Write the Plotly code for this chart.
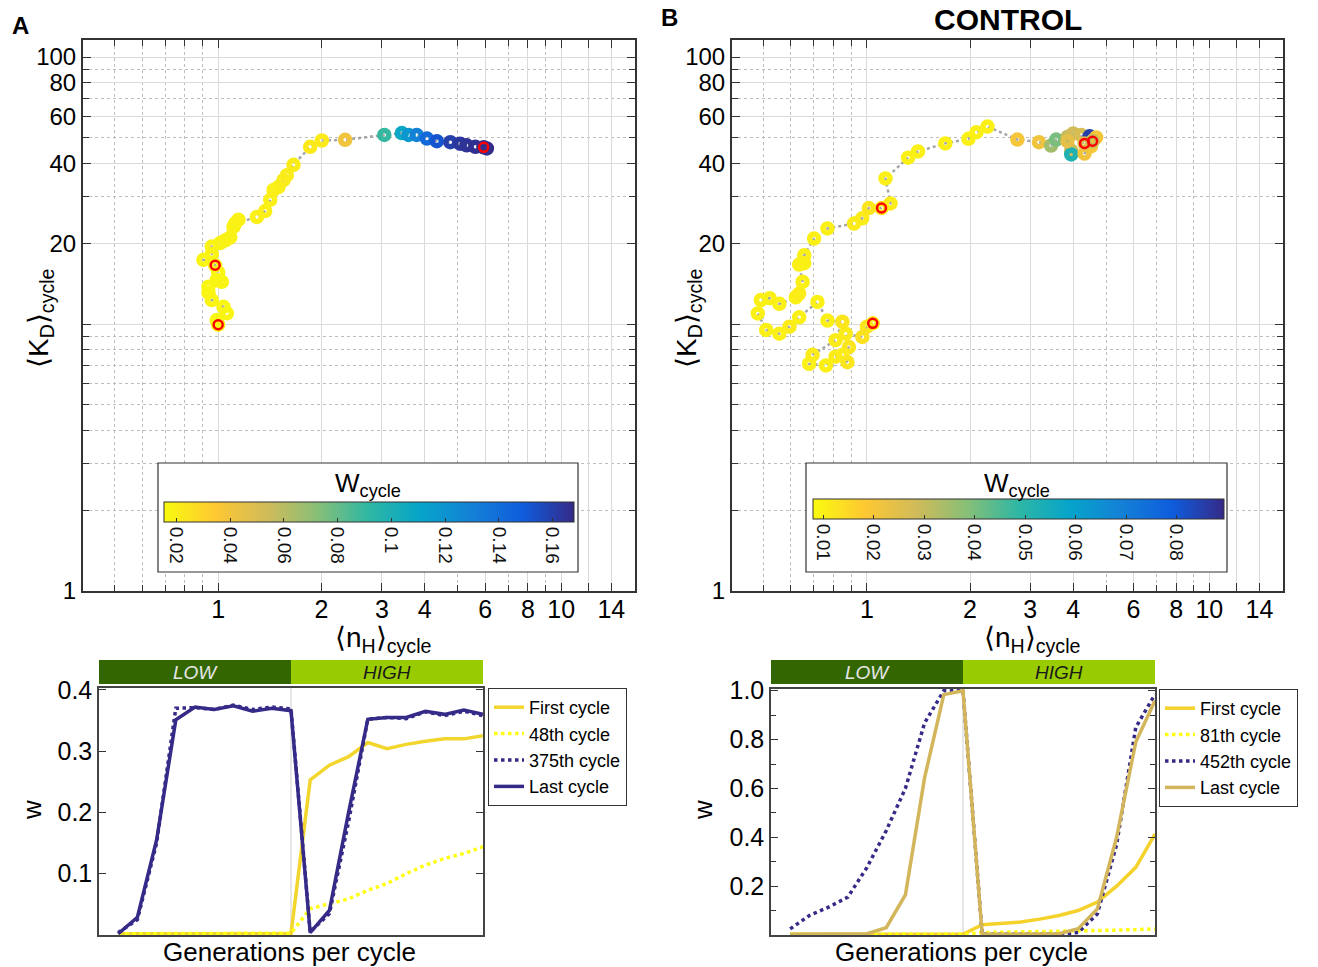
import plotly.graph_objects as go

W, H = 1318, 967
FONT = "Liberation Sans, Arial, Helvetica, sans-serif"

# ---------------- Panel A trajectory (<n_H>, <K_D>, W per cycle) ----------------
a_nh = [1.0, 0.99, 1.06, 1.036, 0.958, 0.937, 0.937, 0.99, 1.025, 1.0, 0.98,
        0.906, 0.958, 0.958, 1.013, 1.05, 1.084, 1.108, 1.146, 1.12, 1.297, 1.371,
        1.418, 1.45, 1.498, 1.55, 1.586, 1.658, 1.854, 2.005, 2.345, 3.05, 3.43,
        3.59, 3.79, 4.06, 4.34, 4.75, 5.07, 5.3, 5.62, 5.94, 6.07]
a_kd = [9.94, 10.35, 10.97, 11.6, 12.3, 13.1, 13.8, 14.6, 14.4, 15.6, 16.6,
        17.4, 18.3, 19.5, 20.1, 20.6, 21.1, 23.1, 24.6, 23.8, 25.2, 26.5,
        29.2, 31.8, 32.6, 34.6, 36.1, 39.5, 46.1, 48.7, 49.0, 51.1, 51.9,
        51.1, 51.1, 49.5, 48.4, 48.0, 47.4, 46.7, 46.1, 45.9, 45.5]
a_w = [0.017, 0.017, 0.018, 0.017, 0.018, 0.018, 0.017, 0.018, 0.018, 0.017, 0.018,
       0.018, 0.018, 0.019, 0.018, 0.019, 0.019, 0.019, 0.019, 0.019, 0.02, 0.02,
       0.02, 0.02, 0.02, 0.021, 0.021, 0.021, 0.022, 0.022, 0.04, 0.09, 0.108,
       0.118, 0.13, 0.142, 0.152, 0.16, 0.163, 0.165, 0.166, 0.167, 0.167]
a_marked = [0, 10, 41]
a_cb_ticks = [0.02, 0.04, 0.06, 0.08, 0.1, 0.12, 0.14, 0.16]
a_cb_text = ["0.02", "0.04", "0.06", "0.08", "0.1", "0.12", "0.14", "0.16"]

# ---------------- Panel B trajectory (CONTROL) ----------------
b_nh = [1.04, 1.0, 0.97, 0.867, 0.886, 0.848, 0.877, 0.81, 0.759, 0.678, 0.694,
        0.81, 0.848, 0.767, 0.717, 0.634, 0.594, 0.555, 0.508, 0.48, 0.49, 0.52,
        0.555, 0.62, 0.634, 0.649, 0.634, 0.656, 0.656, 0.701, 0.767, 0.917, 0.969,
        1.013, 1.103, 1.172, 1.133, 1.319, 1.41, 1.694, 1.979, 2.09, 2.25, 2.75,
        3.18, 3.45, 3.57, 3.86, 3.95, 3.95, 4.0, 3.85, 4.22, 4.32, 4.51, 4.47,
        4.67, 4.32, 4.56]
b_kd = [10.06, 9.77, 8.95, 9.2, 8.2, 7.67, 7.2, 7.55, 7.0, 7.1, 7.67,
        8.7, 10.2, 10.3, 12.1, 10.6, 9.77, 9.2, 9.5, 10.96, 12.3, 12.5,
        11.9, 12.6, 13.0, 14.4, 16.7, 16.9, 18.1, 20.9, 22.8, 23.8, 24.9,
        27.2, 27.2, 28.3, 35.1, 42.0, 44.3, 47.5, 49.4, 52.3, 54.9, 49.1,
        48.0, 46.6, 49.1, 50.3, 44.6, 43.2, 51.7, 48.4, 51.1, 43.5, 46.3, 50.5,
        50.0, 47.5, 48.4]
b_w = [0.011, 0.012, 0.013, 0.011, 0.012, 0.011, 0.012, 0.011, 0.010, 0.010, 0.011,
       0.011, 0.012, 0.010, 0.010, 0.010, 0.011, 0.010, 0.010, 0.010, 0.010, 0.010,
       0.010, 0.010, 0.011, 0.010, 0.010, 0.010, 0.010, 0.010, 0.010, 0.011, 0.011,
       0.012, 0.012, 0.011, 0.010, 0.010, 0.010, 0.010, 0.010, 0.010, 0.010, 0.020,
       0.021, 0.035, 0.040, 0.030, 0.029, 0.052, 0.028, 0.024, 0.027, 0.021, 0.020,
       0.085, 0.020, 0.025, 0.030]
b_marked = [0, 34, 57, 58]
b_cb_ticks = [0.01, 0.02, 0.03, 0.04, 0.05, 0.06, 0.07, 0.08]
b_cb_text = ["0.01", "0.02", "0.03", "0.04", "0.05", "0.06", "0.07", "0.08"]

# ---------------- Bottom panels: w over generations of one cycle ----------------
gen = [1, 2, 3, 4, 5, 6, 7, 8, 9, 10, 11, 12, 13, 14, 15, 16, 17, 18, 19, 20]

a_first = [0.002, 0.002, 0.002, 0.002, 0.002, 0.002, 0.002, 0.002, 0.002, 0.002,
           0.253, 0.277, 0.291, 0.314, 0.304, 0.311, 0.316, 0.32, 0.32, 0.325]
a_48 = [0.002, 0.002, 0.002, 0.002, 0.002, 0.002, 0.003, 0.003, 0.003, 0.003,
        0.043, 0.051, 0.059, 0.073, 0.084, 0.1, 0.114, 0.125, 0.133, 0.144]
a_375 = [0.004, 0.025, 0.15, 0.37, 0.371, 0.368, 0.375, 0.368, 0.372, 0.369,
         0.005, 0.035, 0.185, 0.352, 0.355, 0.353, 0.364, 0.358, 0.365, 0.358]
a_last = [0.002, 0.029, 0.155, 0.351, 0.372, 0.368, 0.374, 0.365, 0.37, 0.366,
          0.004, 0.04, 0.2, 0.352, 0.355, 0.355, 0.365, 0.36, 0.367, 0.36]

b_first = [0.003, 0.003, 0.003, 0.003, 0.003, 0.003, 0.003, 0.003, 0.003, 0.003,
           0.042, 0.049, 0.053, 0.065, 0.08, 0.1, 0.135, 0.2, 0.277, 0.413]
b_81 = [0.003, 0.003, 0.003, 0.003, 0.003, 0.003, 0.003, 0.003, 0.003, 0.003,
        0.01, 0.011, 0.012, 0.013, 0.014, 0.016, 0.018, 0.02, 0.022, 0.025]
b_452 = [0.025, 0.08, 0.114, 0.155, 0.277, 0.427, 0.6, 0.868, 1.0, 1.0,
         0.003, 0.003, 0.003, 0.003, 0.003, 0.01, 0.087, 0.37, 0.85, 0.985]
b_last = [0.003, 0.003, 0.003, 0.003, 0.005, 0.03, 0.164, 0.644, 0.984, 1.0,
          0.003, 0.003, 0.003, 0.003, 0.005, 0.026, 0.107, 0.4, 0.79, 0.96]

a_names = ["First cycle", "48th cycle", "375th cycle", "Last cycle"]
b_names = ["First cycle", "81th cycle", "452th cycle", "Last cycle"]

# parula (reversed: yellow -> dark blue)
parula = ["#352a87", "#0f5cdd", "#1481d6", "#06a4ca", "#2eb7a4",
          "#87bf77", "#d1bb59", "#fec832", "#f9fb0e"]
cscale = [[i / 8, c] for i, c in enumerate(parula[::-1])]


def fx(p):
    return p / W


def fy(p):
    return 1 - p / H


fig = go.Figure()


def add_traj(nh, kd, w, marked, xa, ya, cmin, cmax, cbx, cblen, cbtop, tv, tt):
    fig.add_trace(go.Scatter(x=nh, y=kd, mode="lines", xaxis=xa, yaxis=ya,
                             line=dict(color="#a5a5a5", width=2.5, dash="dot"),
                             showlegend=False, hoverinfo="skip"))
    fig.add_trace(go.Scatter(
        x=nh, y=kd, mode="markers", xaxis=xa, yaxis=ya, showlegend=False,
        marker=dict(symbol="circle-open", size=9, color=w, colorscale=cscale,
                    cmin=cmin, cmax=cmax, line=dict(width=5.5),
                    colorbar=dict(orientation="h", x=cbx, xanchor="center",
                                  y=cbtop, yanchor="top", len=cblen, lenmode="pixels",
                                  thickness=20, thicknessmode="pixels", xpad=0, ypad=0,
                                  outlinewidth=1, outlinecolor="#333",
                                  tickvals=tv, ticktext=tt, tickangle=90,
                                  ticks="inside", ticklen=4, tickcolor="#333",
                                  tickfont=dict(family=FONT, size=19, color="#111")))))
    fig.add_trace(go.Scatter(
        x=[nh[i] for i in marked], y=[kd[i] for i in marked], mode="markers",
        xaxis=xa, yaxis=ya, showlegend=False,
        marker=dict(symbol="circle-open", size=9, color="#ff0000", line=dict(width=2.5))))


add_traj(a_nh, a_kd, a_w, a_marked, "x", "y", 0.0154, 0.168,
         fx(369), 410, fy(502), a_cb_ticks, a_cb_text)
add_traj(b_nh, b_kd, b_w, b_marked, "x2", "y2", 0.0079, 0.0893,
         fx(1018), 411, fy(499), b_cb_ticks, b_cb_text)

navy = "#352a87"
a_styles = [("#f2d62e", "solid"), ("#ffff14", "dot"), (navy, "dot"), (navy, "solid")]
b_styles = [("#f5d22b", "solid"), ("#ffff14", "dot"), (navy, "dot"), ("#d3b65c", "solid")]
for ys, nm, (c, d) in zip([a_first, a_48, a_375, a_last], a_names, a_styles):
    fig.add_trace(go.Scatter(x=gen, y=ys, mode="lines", name=nm, xaxis="x3", yaxis="y3",
                             line=dict(color=c, width=3.5, dash=d), legend="legend"))
for ys, nm, (c, d) in zip([b_first, b_81, b_452, b_last], b_names, b_styles):
    fig.add_trace(go.Scatter(x=gen, y=ys, mode="lines", name=nm, xaxis="x4", yaxis="y4",
                             line=dict(color=c, width=3.5, dash=d), legend="legend2"))


def log_x(dom, anchor):
    return dict(type="log", domain=dom, anchor=anchor, range=[-0.394, 1.215],
                tickvals=[1, 2, 3, 4, 6, 8, 10, 12, 14],
                ticktext=["1", "2", "3", "4", "6", "8", "10", "", "14"],
                ticks="inside", ticklen=8, tickcolor="#333", showline=True,
                linecolor="#333", linewidth=2, mirror="ticks", showgrid=True,
                gridcolor="#dadada", gridwidth=1, zeroline=False, automargin=False,
                ticklabelstandoff=-5,
                minor=dict(tickvals=[0.5, 0.6, 0.7, 0.8, 0.9, 5, 7, 9], ticks="inside",
                           ticklen=6, tickcolor="#333", showgrid=True,
                           gridcolor="#bdbdbd", griddash="dot", gridwidth=1),
                tickfont=dict(family=FONT, size=25, color="black"))


def log_y(dom, anchor):
    return dict(type="log", domain=dom, anchor=anchor, range=[0, 2.064],
                tickvals=[1, 10, 20, 40, 60, 80, 100],
                ticktext=["1", "", "20", "40", "60", "80", "100"],
                ticks="inside", ticklen=8, tickcolor="#333", showline=True,
                linecolor="#333", linewidth=2, mirror="ticks", showgrid=True,
                gridcolor="#dadada", gridwidth=1, zeroline=False, automargin=False,
                minor=dict(tickvals=[2, 3, 4, 5, 6, 7, 8, 9, 30, 50, 70, 90], ticks="inside",
                           ticklen=6, tickcolor="#333", showgrid=True,
                           gridcolor="#bdbdbd", griddash="dot", gridwidth=1),
                tickfont=dict(family=FONT, size=24, color="black"))


def lin_x(dom, anchor):
    return dict(domain=dom, anchor=anchor, range=[0, 20], showticklabels=False, ticks="",
                showline=True, linecolor="#444", linewidth=1.5, mirror=True,
                showgrid=False, zeroline=False, automargin=False)


def lin_y(dom, anchor, rng, tv, tt, minor_tv):
    return dict(domain=dom, anchor=anchor, range=rng, tickvals=tv, ticktext=tt,
                ticks="inside", ticklen=7, tickcolor="#333", showline=True,
                linecolor="#444", linewidth=1.5, mirror="ticks", showgrid=False,
                zeroline=False, automargin=False,
                minor=dict(tickvals=minor_tv, ticks="inside", ticklen=5, tickcolor="#333"),
                tickfont=dict(family=FONT, size=25, color="black"))


legend_common = dict(xanchor="left", yanchor="top", bgcolor="white", bordercolor="#333",
                     borderwidth=1, font=dict(family=FONT, size=18, color="black"),
                     tracegroupgap=0)

fig.update_layout(
    width=W, height=H, margin=dict(l=0, r=0, t=0, b=0, pad=0, autoexpand=False),
    paper_bgcolor="white", plot_bgcolor="white",
    font=dict(family=FONT, color="black"),
    xaxis=log_x([fx(83), fx(635)], "y"), yaxis=log_y([fy(591), fy(40)], "x"),
    xaxis2=log_x([fx(732), fx(1283)], "y2"), yaxis2=log_y([fy(591), fy(40)], "x2"),
    xaxis3=lin_x([fx(99), fx(483)], "y3"),
    yaxis3=lin_y([fy(935), fy(688)], "x3", [0, 0.403], [0.1, 0.2, 0.3, 0.4],
                 ["0.1", "0.2", "0.3", "0.4"], []),
    xaxis4=lin_x([fx(771), fx(1155)], "y4"),
    yaxis4=lin_y([fy(935), fy(689)], "x4", [0, 1.007], [0.2, 0.4, 0.6, 0.8, 1.0],
                 ["0.2", "0.4", "0.6", "0.8", "1.0"], [0.1, 0.3, 0.5, 0.7, 0.9]),
    legend=dict(x=fx(488), y=fy(688), **legend_common),
    legend2=dict(x=fx(1159), y=fy(689), **legend_common),
)

shapes = []
# colorbar boxes
for x0, x1 in [(158, 578), (806, 1227)]:
    shapes.append(dict(type="rect", xref="paper", yref="paper", x0=fx(x0), x1=fx(x1),
                       y0=fy(572), y1=fy(463), fillcolor="white",
                       line=dict(color="#333", width=1.2), layer="above"))
# LOW / HIGH header bars and divider lines
for xr in ["x3", "x4"]:
    shapes.append(dict(type="rect", xref=xr, yref="paper", x0=0, x1=10, y0=fy(684), y1=fy(660),
                       fillcolor="#336600", line=dict(width=0)))
    shapes.append(dict(type="rect", xref=xr, yref="paper", x0=10, x1=20, y0=fy(684), y1=fy(660),
                       fillcolor="#99cc00", line=dict(width=0)))
    shapes.append(dict(type="line", xref=xr, yref=xr.replace("x", "y") + " domain",
                       x0=10, x1=10, y0=0, y1=1, line=dict(color="#cfcfcf", width=1),
                       layer="below"))
fig.update_layout(shapes=shapes)

ann = []


def txt(x, y, t, size, angle=0, color="black"):
    ann.append(dict(x=x, y=y, xref="paper", yref="paper", text=t, showarrow=False,
                    textangle=angle, xanchor="center", yanchor="middle",
                    font=dict(family=FONT, size=size, color=color)))


txt(fx(20), fy(25), "<b>A</b>", 24)
txt(fx(669), fy(17), "<b>B</b>", 24)
txt(fx(1008), fy(19), "<b>CONTROL</b>", 30)
for cx in [368, 1017]:
    txt(fx(cx), fy(484), "W<sub>cycle</sub>", 26)
txt(fx(383), fy(639), "⟨n<sub>H</sub>⟩<sub>cycle</sub>", 28)
txt(fx(1032), fy(639), "⟨n<sub>H</sub>⟩<sub>cycle</sub>", 28)
txt(fx(40), fy(318), "⟨K<sub>D</sub>⟩<sub>cycle</sub>", 28, angle=-90)
txt(fx(688), fy(318), "⟨K<sub>D</sub>⟩<sub>cycle</sub>", 28, angle=-90)
txt(fx(32), fy(810), "w", 26, angle=-90)
txt(fx(703), fy(810), "w", 26, angle=-90)
txt(fx(289), fy(952), "Generations per cycle", 26)
txt(fx(961), fy(952), "Generations per cycle", 26)
for xr in ["x3", "x4"]:
    ann.append(dict(x=5, y=fy(672), xref=xr, yref="paper", text="<i>LOW</i>",
                    showarrow=False, yanchor="middle",
                    font=dict(family=FONT, size=19, color="#e6e6e6")))
    ann.append(dict(x=15, y=fy(672), xref=xr, yref="paper", text="<i>HIGH</i>",
                    showarrow=False, yanchor="middle",
                    font=dict(family=FONT, size=19, color="#1a1a1a")))
fig.update_layout(annotations=ann)

post = ("document.documentElement.style.margin='0';"
        "document.body.style.margin='0';document.body.style.padding='0';"
        "document.body.style.overflow='hidden';"
        "document.documentElement.style.overflow='hidden';"
        "var d=document.getElementById('{plot_id}');"
        "d.style.position='fixed';d.style.left='0px';d.style.top='0px';")
fig.write_html("out.html", config={"displayModeBar": False}, post_script=post)
